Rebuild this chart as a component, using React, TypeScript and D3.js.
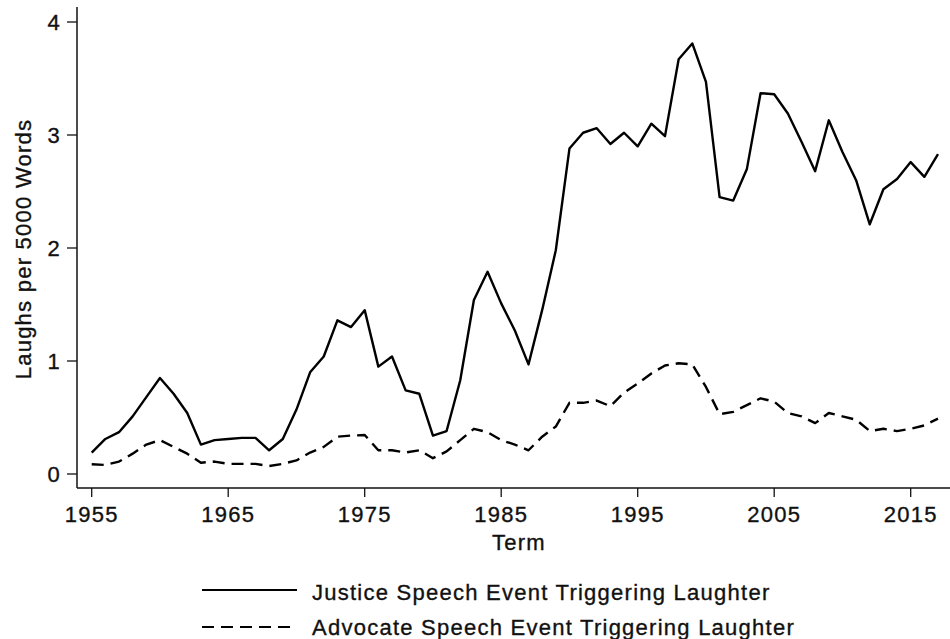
import React from "react";
import * as d3 from "d3";

const years: number[] = d3.range(1955, 2018);

const justice: number[] = [
  0.19, 0.31, 0.37, 0.51, 0.68, 0.85, 0.71, 0.54, 0.26, 0.30,
  0.31, 0.32, 0.32, 0.21, 0.31, 0.57, 0.90, 1.04, 1.36, 1.30,
  1.45, 0.95, 1.04, 0.74, 0.71, 0.34, 0.38, 0.83, 1.54, 1.79,
  1.51, 1.27, 0.97, 1.45, 1.98, 2.88, 3.02, 3.06, 2.92, 3.02,
  2.90, 3.10, 2.99, 3.67, 3.81, 3.47, 2.45, 2.42, 2.70, 3.37,
  3.36, 3.19, 2.94, 2.68, 3.13, 2.85, 2.60, 2.21, 2.52, 2.61,
  2.76, 2.63, 2.83,
];

const advocate: number[] = [
  0.086, 0.08, 0.11, 0.18, 0.26, 0.30, 0.24, 0.18, 0.10, 0.11,
  0.09, 0.09, 0.09, 0.07, 0.09, 0.12, 0.19, 0.24, 0.33, 0.34,
  0.345, 0.21, 0.21, 0.19, 0.21, 0.14, 0.20, 0.30, 0.40, 0.37,
  0.30, 0.26, 0.21, 0.33, 0.42, 0.63, 0.63, 0.65, 0.60, 0.72,
  0.80, 0.89, 0.96, 0.98, 0.97, 0.77, 0.53, 0.55, 0.61, 0.67,
  0.64, 0.54, 0.51, 0.45, 0.54, 0.51, 0.48, 0.38, 0.40, 0.38,
  0.40, 0.43, 0.49,
];

const xTicks: number[] = [1955, 1965, 1975, 1985, 1995, 2005, 2015];
const yTicks: number[] = [0, 1, 2, 3, 4];
const legendLabels: string[] = [
  "Justice Speech Event Triggering Laughter",
  "Advocate Speech Event Triggering Laughter",
];
const xTitle = "Term";
const yTitle = "Laughs per 5000 Words";

const FONT = "'Liberation Sans', Arial, Helvetica, sans-serif";

export default function App() {
  const W = 950;
  const H = 639;
  const x = d3.scaleLinear().domain([1955, 2015]).range([91.7, 910.7]);
  const y = d3.scaleLinear().domain([0, 4]).range([474, 22]);
  const axisX = 77;
  const axisY = 488;

  const line = d3
    .line<number>()
    .x((_, i) => x(years[i]))
    .y((d) => y(d));

  const textStyle: React.CSSProperties = {
    fontFamily: FONT,
    fontSize: 22,
    letterSpacing: 1.25,
    fill: "#111",
    stroke: "#111",
    strokeWidth: 0.35,
  };

  const dash = "12 7";

  return (
    <svg
      width={W}
      height={H}
      style={{ position: "absolute", left: 0, top: 0, background: "#fff" }}
    >
      <rect x={0} y={0} width={W} height={H} fill="#fff" />
      {/* axes */}
      <line x1={axisX} y1={7} x2={axisX} y2={axisY} stroke="#111" strokeWidth={1.5} />
      <line x1={axisX} y1={axisY} x2={W} y2={axisY} stroke="#111" strokeWidth={1.5} />
      {yTicks.map((t) => (
        <g key={"y" + t}>
          <line x1={axisX - 10} x2={axisX} y1={y(t)} y2={y(t)} stroke="#111" strokeWidth={1.3} />
          <text x={61} y={y(t)} textAnchor="end" dominantBaseline="central" style={textStyle}>
            {t}
          </text>
        </g>
      ))}
      {xTicks.map((t) => (
        <g key={"x" + t}>
          <line x1={x(t)} x2={x(t)} y1={axisY} y2={axisY + 9} stroke="#111" strokeWidth={1.3} />
          <text x={x(t)} y={522} textAnchor="middle" style={textStyle}>
            {t}
          </text>
        </g>
      ))}
      <text x={519} y={550} textAnchor="middle" style={textStyle}>
        {xTitle}
      </text>
      <text
        transform={`translate(31,249) rotate(-90)`}
        textAnchor="middle"
        style={textStyle}
      >
        {yTitle}
      </text>
      {/* series */}
      <path d={line(justice) || ""} fill="none" stroke="#000" strokeWidth={2.4} strokeLinejoin="round" />
      <path
        d={line(advocate) || ""}
        fill="none"
        stroke="#000"
        strokeWidth={2.4}
        strokeDasharray={dash}
        strokeLinejoin="round"
      />
      {/* legend */}
      <line x1={202} x2={297} y1={590} y2={590} stroke="#000" strokeWidth={2.2} />
      <text x={312} y={600} style={textStyle}>
        {legendLabels[0]}
      </text>
      <line x1={202} x2={297} y1={627} y2={627} stroke="#000" strokeWidth={2.2} strokeDasharray={dash} />
      <text x={312} y={635} style={textStyle}>
        {legendLabels[1]}
      </text>
    </svg>
  );
}
